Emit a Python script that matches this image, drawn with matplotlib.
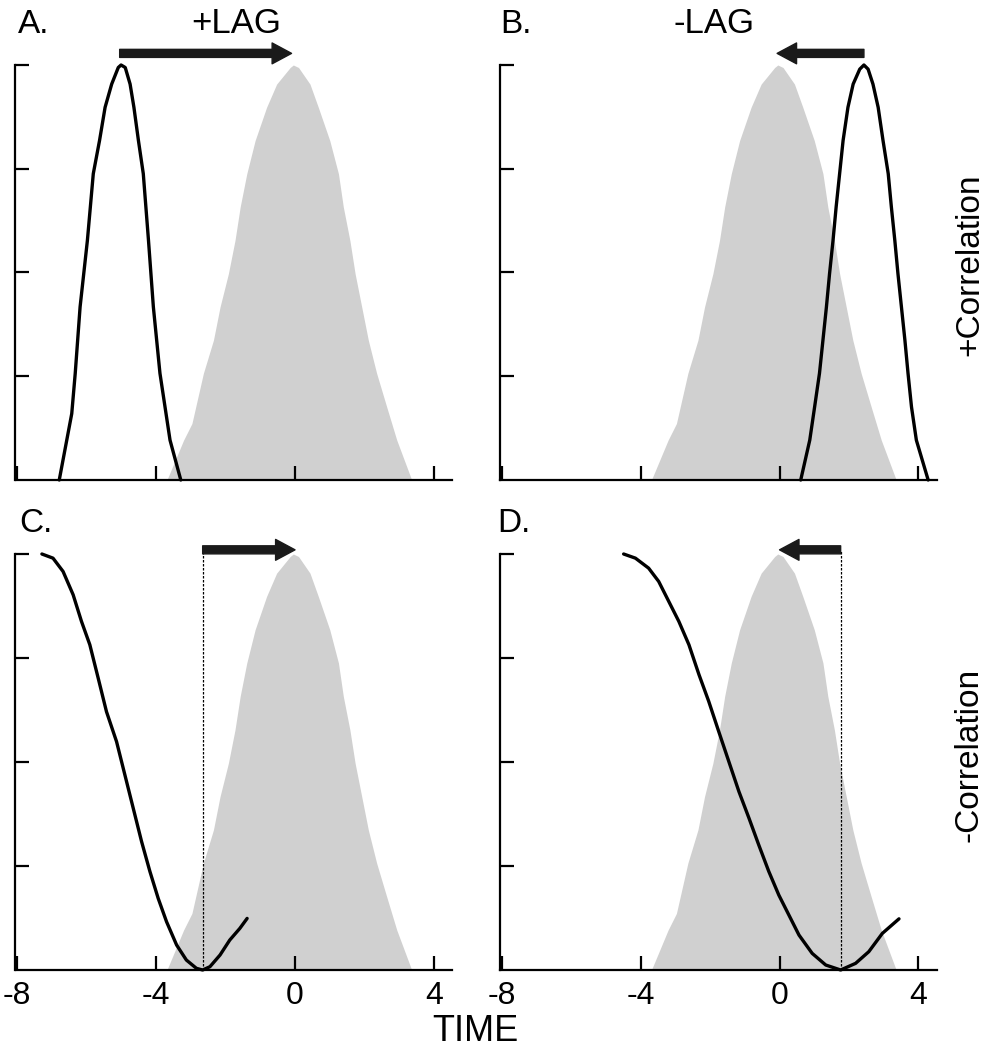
import matplotlib
matplotlib.use('Agg')
import matplotlib.pyplot as plt

plt.rcParams['font.family'] = ['Liberation Sans', 'DejaVu Sans']

# x ticks (time) and y ticks (no labels)
time_ticks = [-8, -4, 0, 4]
time_labels = ['-8', '-4', '0', '4']
level_ticks = [0.25, 0.5, 0.75, 1.0]

# grey reference response (same in all four panels)
grey_x = [-3.69, -3.21, -2.97, -2.64, -2.35, -2.16, -1.92, -1.73, -1.58, -1.39, -1.15,
          -0.82, -0.53, -0.14, -0.05, 0.10, 0.43, 0.67, 1.00, 1.25, 1.39, 1.58, 1.73,
          1.92, 2.11, 2.35, 2.64, 2.93, 3.36]
grey_y = [0, 0.096, 0.136, 0.257, 0.337, 0.417, 0.497, 0.577, 0.658, 0.738, 0.818,
          0.898, 0.954, 0.994, 1.0, 0.994, 0.954, 0.898, 0.818, 0.738, 0.658, 0.577,
          0.497, 0.417, 0.337, 0.257, 0.176, 0.096, 0]

# A. positive lag, positive correlation
a_x = [-6.79, -6.43, -6.33, -6.19, -5.98, -5.81, -5.63, -5.47, -5.28, -5.09, -5.01,
       -4.89, -4.75, -4.64, -4.51, -4.37, -4.22, -4.08, -3.89, -3.60, -3.29]
a_y = [0, 0.16, 0.257, 0.417, 0.577, 0.738, 0.818, 0.898, 0.954, 0.994, 1.0,
       0.994, 0.954, 0.898, 0.818, 0.738, 0.577, 0.417, 0.257, 0.096, 0]

# B. negative lag, positive correlation
b_x = [0.61, 0.87, 1.01, 1.15, 1.35, 1.44, 1.54, 1.63, 1.73, 1.83, 1.97, 2.12, 2.31,
       2.43, 2.55, 2.69, 2.84, 2.98, 3.13, 3.22, 3.32, 3.41, 3.51, 3.61, 3.70, 3.80,
       3.94, 4.28]
b_y = [0, 0.096, 0.176, 0.257, 0.417, 0.497, 0.577, 0.658, 0.738, 0.818, 0.898, 0.954,
       0.99, 1.0, 0.99, 0.954, 0.898, 0.818, 0.738, 0.658, 0.577, 0.497, 0.417, 0.337,
       0.257, 0.176, 0.096, 0]

# C. positive lag, negative correlation
c_x = [-7.29, -6.97, -6.68, -6.39, -6.15, -5.91, -5.67, -5.43, -5.14, -4.90, -4.66,
       -4.42, -4.18, -3.94, -3.70, -3.41, -3.13, -2.84, -2.66, -2.45, -2.16, -1.88,
       -1.59, -1.38]
c_y = [1.0, 0.99, 0.958, 0.902, 0.838, 0.782, 0.702, 0.621, 0.549, 0.469, 0.389,
       0.309, 0.237, 0.172, 0.116, 0.060, 0.024, 0.004, 0, 0.008, 0.036, 0.072,
       0.100, 0.124]

# D. negative lag, negative correlation
d_x = [-4.49, -4.15, -3.77, -3.48, -3.19, -2.90, -2.61, -2.32, -2.04, -1.75, -1.46,
       -1.17, -0.88, -0.60, -0.31, -0.02, 0.27, 0.56, 0.94, 1.33, 1.76, 2.19, 2.57,
       2.96, 3.44]
d_y = [1.0, 0.99, 0.966, 0.934, 0.886, 0.838, 0.782, 0.710, 0.646, 0.573, 0.501,
       0.429, 0.365, 0.301, 0.237, 0.180, 0.132, 0.084, 0.040, 0.012, 0, 0.016, 0.044,
       0.088, 0.123]

# lag arrows: (start, end) on the time axis
lag_a = (-5.05, -0.10)
lag_b = (2.43, -0.07)
lag_c = (-2.66, 0.0)
lag_d = (1.76, 0.0)

W, H = 987, 1050
fig = plt.figure(figsize=(W / 100, H / 100), dpi=100)


def px_axes(left, right, top, bottom):
    return fig.add_axes([left / W, 1 - bottom / H, (right - left) / W, (bottom - top) / H])


def style(ax, labels):
    ax.set_xlim(-8.05, 4.52)
    ax.set_ylim(0, 1)
    for s in ['top', 'right']:
        ax.spines[s].set_visible(False)
    for s in ['left', 'bottom']:
        ax.spines[s].set_linewidth(1.6)
    ax.set_xticks(time_ticks)
    ax.set_yticks(level_ticks)
    ax.set_yticklabels([])
    if labels:
        ax.set_xticklabels(time_labels, fontsize=23)
    else:
        ax.set_xticklabels([])
    ax.tick_params(direction='in', length=10, width=1.6, pad=8)


def lag_arrow(ax, lag, y):
    ax.annotate('', xy=(lag[1], y), xytext=(lag[0], y), annotation_clip=False,
                arrowprops=dict(arrowstyle='simple,head_length=14,head_width=15,tail_width=5.8',
                                mutation_scale=1, color='#1a1a1a', shrinkA=0, shrinkB=0))


axA = px_axes(15.5, 452, 65, 480)
axB = px_axes(500, 936.5, 65, 480)
axC = px_axes(15.5, 452, 554, 970)
axD = px_axes(500, 936.5, 554, 970)

for ax, lx, ly in [(axA, a_x, a_y), (axB, b_x, b_y), (axC, c_x, c_y), (axD, d_x, d_y)]:
    ax.fill_between(grey_x, grey_y, 0, color='#d0d0d0', linewidth=0)
    ax.plot(lx, ly, color='black', linewidth=2.4, clip_on=False,
            solid_joinstyle='round', solid_capstyle='round')

style(axA, False)
style(axB, False)
style(axC, True)
style(axD, True)

lag_arrow(axA, lag_a, 1.028)
lag_arrow(axB, lag_b, 1.028)
lag_arrow(axC, lag_c, 1.01)
lag_arrow(axD, lag_d, 1.01)

axC.plot([lag_c[0], lag_c[0]], [0, 1.01], color='black', linewidth=0.9,
         linestyle=(0, (2, 1.2)), clip_on=False)
axD.plot([lag_d[0], lag_d[0]], [0, 1.01], color='black', linewidth=0.9,
         linestyle=(0, (2, 1.2)), clip_on=False)


def ftext(x, y, s, **kw):
    fig.text(x / W, 1 - y / H, s, **kw)


ftext(18, 33, 'A.', fontsize=24, ha='left', va='baseline')
ftext(236, 33, '+LAG', fontsize=25, ha='center', va='baseline')
ftext(500, 33, 'B.', fontsize=24, ha='left', va='baseline')
ftext(714, 33, '-LAG', fontsize=25, ha='center', va='baseline')
ftext(19, 532, 'C.', fontsize=24, ha='left', va='baseline')
ftext(497, 532, 'D.', fontsize=24, ha='left', va='baseline')
ftext(475, 1049, 'TIME', fontsize=26, ha='center', va='bottom')
ftext(985, 265, '+Correlation', fontsize=24, rotation=90, ha='right', va='center')
ftext(985, 755, '-Correlation', fontsize=24, rotation=90, ha='right', va='center')

fig.savefig('out.png', dpi=100)
